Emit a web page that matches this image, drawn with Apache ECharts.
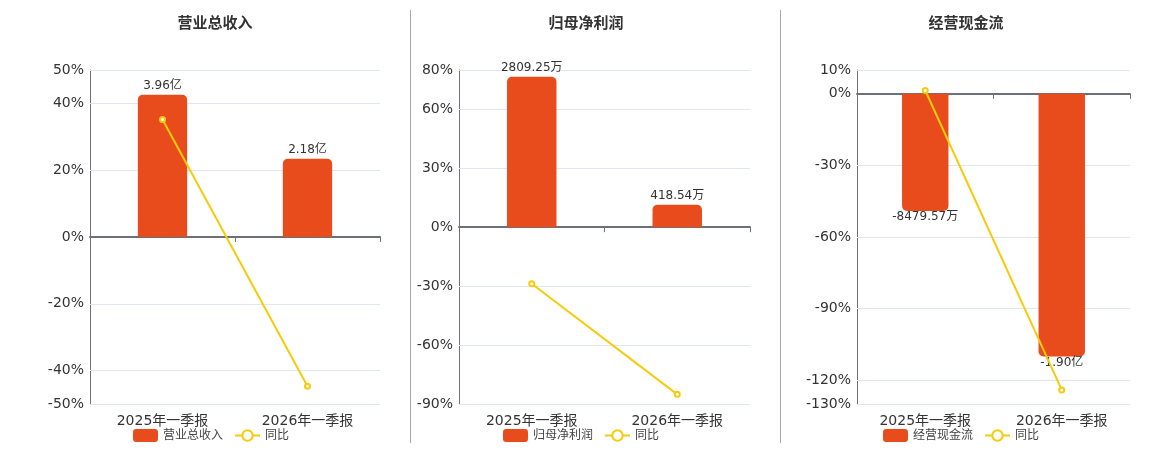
<!DOCTYPE html>
<html>
<head>
<meta charset="utf-8">
<script src="https://cdn.jsdelivr.net/npm/echarts@6/dist/echarts.min.js"></script>
<style>
html,body{margin:0;padding:0;background:#fff;}
#main{width:1160px;height:450px;}
</style>
</head>
<body>
<div id="main"></div>
<script>
// ---- data ----
var categories = ['2025年一季报', '2026年一季报'];

var titles = ['营业总收入', '归母净利润', '经营现金流'];

var revenueValues = [3.96, 2.18];            // 亿
var revenueLabels = ['3.96亿', '2.18亿'];
var revenueYoy = [35.2, -44.7];               // %
var revenueTicks = [50, 40, 20, 0, -20, -40, -50];

var profitValues = [2809.25, 418.54];         // 万
var profitLabels = ['2809.25万', '418.54万'];
var profitYoy = [-28.8, -85.1];
var profitTicks = [80, 60, 30, 0, -30, -60, -90];

var cashValues = [-8479.57, -19000];          // 万
var cashLabels = ['-8479.57万', '-1.90亿'];
var cashYoy = [1.4, -124.1];
var cashTicks = [10, 0, -30, -60, -90, -120, -130];

var yoyName = '同比';

// ---- layout / style ----
var BAR_COLOR = '#E84C1D';
var LINE_COLOR = '#F5CB0C';
var AXIS_COLOR = '#6E7079';
var GRID_LINE = '#E0E6F1';
var FONT = "'DejaVu Sans', 'Noto Sans CJK SC', sans-serif";

var panels = [
  {values: revenueValues, labels: revenueLabels, yoy: revenueYoy, ticks: revenueTicks,
   grid: {left: 90, top: 70, width: 290, height: 334}, titleX: 210, legendLeft: 128, unitPerPct: 3.96 / 42.6},
  {values: profitValues, labels: profitLabels, yoy: profitYoy, ticks: profitTicks,
   grid: {left: 459, top: 70, width: 291, height: 334}, titleX: 581, legendLeft: 498, unitPerPct: 2809.25 / 76.6},
  {values: cashValues, labels: cashLabels, yoy: cashYoy, ticks: cashTicks,
   grid: {left: 857, top: 70, width: 273, height: 334}, titleX: 961, legendLeft: 878, unitPerPct: 19000 / 110.1}
];

var option = {
  animation: false,
  backgroundColor: '#fff',
  textStyle: {fontFamily: FONT},
  title: [], legend: [], grid: [], xAxis: [], yAxis: [], series: [],
  graphic: [
    {type: 'line', shape: {x1: 410.5, y1: 10, x2: 410.5, y2: 443}, style: {stroke: '#A8A8A8', lineWidth: 1}, silent: true},
    {type: 'line', shape: {x1: 780.5, y1: 10, x2: 780.5, y2: 443}, style: {stroke: '#A8A8A8', lineWidth: 1}, silent: true}
  ]
};

panels.forEach(function (p, i) {
  var pmin = Math.min.apply(null, p.ticks);
  var pmax = Math.max.apply(null, p.ticks);
  var tickSet = p.ticks.slice();

  option.title.push({
    text: titles[i], left: p.titleX, top: 12, textAlign: 'center',
    textStyle: {fontSize: 15, fontWeight: 'bold', color: '#333', fontFamily: FONT}
  });
  option.legend.push({
    left: p.legendLeft, top: 424, itemWidth: 25, itemHeight: 13, itemGap: 11,
    textStyle: {fontSize: 12, color: '#444', fontFamily: FONT},
    data: [titles[i], yoyName]
  });
  option.grid.push(p.grid);

  // x axis at zero (line + ticks)
  option.xAxis.push({
    type: 'category', gridIndex: i, data: categories, position: 'bottom',
    axisLine: {show: true, onZero: true, onZeroAxisIndex: i * 2, lineStyle: {color: AXIS_COLOR, width: 2}},
    axisTick: {show: true, length: 5, lineStyle: {color: AXIS_COLOR}},
    axisLabel: {show: false}, splitLine: {show: false}
  });
  // x axis labels at bottom
  option.xAxis.push({
    type: 'category', gridIndex: i, data: categories, position: 'bottom',
    axisLine: {show: false, onZero: false}, axisTick: {show: false},
    axisLabel: {show: true, fontSize: 14, color: '#333', margin: 10, fontFamily: FONT},
    splitLine: {show: false}
  });
  // percent axis
  option.yAxis.push({
    type: 'value', gridIndex: i, min: pmin, max: pmax, interval: 10,
    axisLine: {show: true, lineStyle: {color: AXIS_COLOR, width: 1}},
    axisTick: {show: false},
    splitLine: {show: false},
    axisLabel: {
      fontSize: 14, color: '#333', margin: 6, fontFamily: FONT,
      formatter: function (v) {
        var r = Math.round(v);
        return tickSet.indexOf(r) >= 0 ? r + '%' : '';
      }
    }
  });
  // hidden bar value axis aligned to zero
  option.yAxis.push({
    type: 'value', gridIndex: i, show: false,
    min: pmin * p.unitPerPct, max: pmax * p.unitPerPct,
    splitLine: {show: false}
  });

  option.series.push({
    name: titles[i], type: 'bar', xAxisIndex: i * 2, yAxisIndex: i * 2 + 1,
    barWidth: '34%', z: 2,
    itemStyle: {color: BAR_COLOR},
    data: p.values.map(function (v, k) {
      return {
        value: v,
        itemStyle: {borderRadius: v >= 0 ? [5, 5, 0, 0] : [0, 0, 5, 5]},
        label: {
          show: true, position: v >= 0 ? 'top' : 'bottom', distance: v >= 0 ? 3 : 0,
          formatter: p.labels[k], fontSize: 12, color: '#333', fontFamily: FONT
        }
      };
    })
  });
  option.series.push({
    name: yoyName, type: 'line', xAxisIndex: i * 2, yAxisIndex: i * 2, z: 3,
    symbol: 'emptyCircle', symbolSize: 5,
    lineStyle: {color: LINE_COLOR, width: 2},
    itemStyle: {color: LINE_COLOR},
    data: p.yoy,
    markLine: {
      silent: true, z: 1, symbol: ['none', 'none'], animation: false,
      label: {show: false},
      lineStyle: {color: GRID_LINE, width: 1, type: 'solid'},
      emphasis: {disabled: true},
      data: p.ticks.filter(function (t) { return t !== 0; }).map(function (t) { return {yAxis: t}; })
    }
  });
});

var chart = echarts.init(document.getElementById('main'));
chart.setOption(option);
</script>
</body>
</html>
